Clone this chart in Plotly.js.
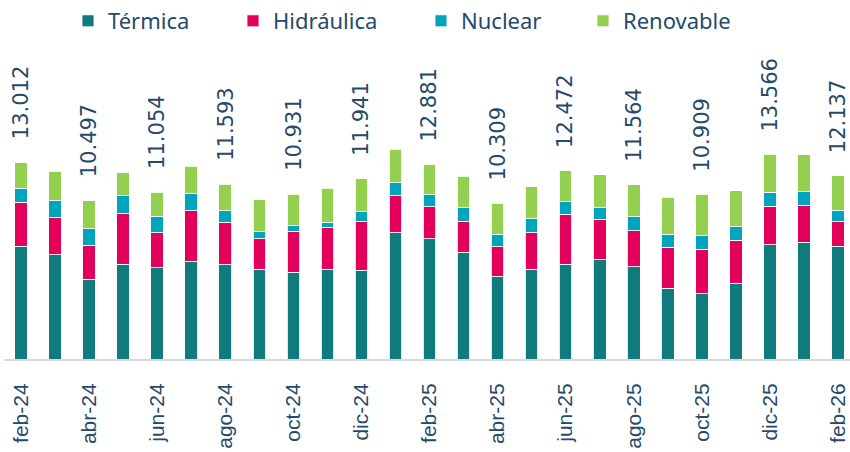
<!DOCTYPE html>
<html>
<head>
<meta charset="utf-8">
<script src="https://cdn.plot.ly/plotly-3.0.1.min.js"></script>
<style>html,body{margin:0;padding:0;background:#fff;}#chart{width:850px;height:452px;}</style>
</head>
<body>
<div id="chart"></div>
<script>
// Months (feb-24 .. feb-26)
const categories = ["feb-24","mar-24","abr-24","may-24","jun-24","jul-24","ago-24","sep-24","oct-24","nov-24","dic-24","ene-25","feb-25","mar-25","abr-25","may-25","jun-25","jul-25","ago-25","sep-25","oct-25","nov-25","dic-25","ene-26","feb-26"];
// Generation by source (thousand GWh)
const termica    = [7.47,6.89,5.27,6.29,6.05,6.47,6.26,5.96,5.76,5.96,5.87,8.35,7.96,7.07,5.47,5.96,6.27,6.56,6.12,4.70,4.33,5.03,7.56,7.75,7.47];
const hidraulica = [2.90,2.48,2.27,3.34,2.30,3.34,2.81,1.99,2.71,2.72,3.21,2.46,2.12,2.06,1.95,2.39,3.33,2.66,2.39,2.70,2.95,2.83,2.56,2.39,1.63];
const nuclear    = [0.95,1.11,1.10,1.17,1.11,1.17,0.75,0.49,0.38,0.38,0.66,0.86,0.80,0.93,0.84,0.93,0.84,0.84,0.93,0.86,0.92,0.91,0.93,0.93,0.75];
const renovable  = [1.69,1.95,1.85,1.53,1.59,1.79,1.77,2.10,2.08,2.26,2.20,2.21,2.00,2.04,2.05,2.13,2.03,2.13,2.12,2.46,2.71,2.37,2.52,2.46,2.29];
// Total labels (shown every other month)
const totalLabels = ["13.012","","10.497","","11.054","","11.593","","10.931","","11.941","","12.881","","10.309","","12.472","","11.564","","10.909","","13.566","","12.137"];
const tickLabels = categories.filter((c,i)=>i%2===0);

const textColor = "#264a6a";
const lineStyle = {color:"rgba(255,255,255,0.85)", width:1};
const names = ["Térmica","Hidráulica","Nuclear","Renovable"];
const series = [termica, hidraulica, nuclear, renovable];
const colors = ["#0f7b7c","#e3005a","#00a4bd","#93d04f"];
const legendIds = ["legend","legend2","legend3","legend4"];

const traces = series.map((s,k)=>({
  type:"bar", name:names[k], x:categories, y:s,
  marker:{color:colors[k], line:lineStyle},
  legend:legendIds[k], hoverinfo:"skip"
}));

const totals = categories.map((c,i)=>termica[i]+hidraulica[i]+nuclear[i]+renovable[i]);
const annotations = [];
categories.forEach((c,i)=>{
  if(totalLabels[i]){
    annotations.push({x:c, y:totals[i], xref:"x", yref:"y", text:totalLabels[i], showarrow:false,
      textangle:-90, yanchor:"bottom", xanchor:"center", yshift:21, xshift:0,
      font:{family:"DejaVu Sans", size:21, color:textColor}});
  }
});

const legendX = [68, 233, 421, 583];
const layout = {
  width:850, height:452,
  margin:{l:4, r:0, t:40, b:93},
  paper_bgcolor:"#ffffff", plot_bgcolor:"#ffffff",
  barmode:"stack", bargap:0.63,
  showlegend:true,
  xaxis:{type:"category", range:[-0.5,24.353], tickmode:"array", tickvals:tickLabels, ticktext:tickLabels,
    tickangle:-90, ticks:"", ticklabelstandoff:14, showgrid:false, zeroline:false,
    showline:true, linecolor:"#d9d9d9", linewidth:2,
    tickfont:{family:"Liberation Sans", size:21, color:textColor}},
  yaxis:{range:[0,21.0], visible:false, showgrid:false, zeroline:false},
  annotations:annotations
};
legendIds.forEach((id,k)=>{
  layout[id] = {orientation:"h", xref:"container", yref:"container", x:legendX[k]/850, y:1,
    xanchor:"left", yanchor:"top", bgcolor:"rgba(0,0,0,0)",
    font:{family:"Noto Sans", size:22, color:textColor}};
});

Plotly.newPlot("chart", traces, layout, {displayModeBar:false, staticPlot:true});
</script>
</body>
</html>
